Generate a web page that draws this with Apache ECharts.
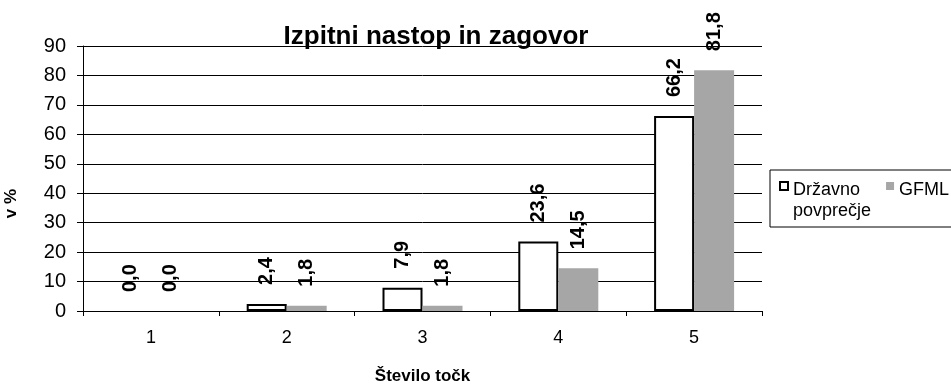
<!DOCTYPE html>
<html>
<head>
<meta charset="utf-8">
<script src="https://cdn.jsdelivr.net/npm/echarts@6/dist/echarts.min.js"></script>
<style>
  html, body { margin: 0; padding: 0; background: #fff; }
  #chart { width: 951px; height: 388px; }
</style>
</head>
<body>
<div id="chart"></div>
<script>
// Points awarded (1–5) and share of candidates in percent
const categories = ['1', '2', '3', '4', '5'];
const drzavnoPovprecje = [0.0, 2.4, 7.9, 23.6, 66.2];
const gfml = [0.0, 1.8, 1.8, 14.5, 81.8];
const seriesNames = ['Državno povprečje', 'GFML'];
const titleText = 'Izpitni nastop in zagovor';
const xAxisTitle = 'Število točk';
const yAxisTitle = 'v %';

const FONT = '"Liberation Sans", Arial, sans-serif';
const fmt = v => v.toFixed(1).replace('.', ',');

const valueLabel = {
  show: true,
  position: 'top',
  rotate: 90,
  align: 'left',
  verticalAlign: 'middle',
  distance: 19,
  fontFamily: FONT,
  fontWeight: 'bold',
  fontSize: 20,
  color: '#000',
  formatter: p => fmt(p.value)
};

// an empty bar gets no outline, so nothing is drawn over the axis
const outlined = values => values.map(v => v === 0
  ? { value: v, itemStyle: { borderWidth: 0 } }
  : v);

// legend swatch: an 8px square sitting at the top of a tall item box,
// so it lines up with the first line of two-line legend text
const swatch = 'path://M0,0h8v8h-8zM8,37';

const chart = echarts.init(document.getElementById('chart'), null, { renderer: 'canvas' });
chart.setOption({
  animation: false,
  backgroundColor: '#fff',
  title: {
    text: titleText,
    left: 431,
    top: 19,
    textAlign: 'center',
    textStyle: { fontFamily: FONT, fontWeight: 'bold', fontSize: 26, color: '#000' }
  },
  legend: {
    left: 770,
    top: 170,
    width: 400,
    orient: 'horizontal',
    itemWidth: 8,
    itemHeight: 37,
    itemGap: 15,
    padding: [9.5, 40, 5.5, 9],
    borderColor: '#000',
    borderWidth: 1,
    backgroundColor: '#fff',
    selectedMode: false,
    textStyle: {
      fontFamily: FONT,
      fontSize: 18,
      color: '#000',
      lineHeight: 21
    },
    data: [
      {
        name: seriesNames[0],
        icon: swatch,
        itemStyle: { color: '#fff', borderColor: '#000', borderWidth: 2 }
      },
      {
        name: seriesNames[1],
        icon: swatch,
        itemStyle: { color: '#a6a6a6', borderWidth: 0 }
      }
    ],
    formatter: name => name.indexOf(' ') >= 0 ? name.replace(' ', '\n') : name + '\n '
  },
  grid: { left: 83, right: 189, top: 46, bottom: 77, containLabel: false, outerBoundsMode: 'none' },
  xAxis: {
    type: 'category',
    data: categories,
    boundaryGap: true,
    name: xAxisTitle,
    nameLocation: 'middle',
    nameGap: 57,
    nameTextStyle: { fontFamily: FONT, fontWeight: 'bold', fontSize: 17, color: '#000' },
    axisLine: { lineStyle: { color: '#000', width: 1 } },
    axisTick: { show: true, length: 5, lineStyle: { color: '#000' }, alignWithLabel: false },
    axisLabel: { fontFamily: FONT, fontSize: 18, color: '#000', margin: 18 },
    splitLine: { show: false }
  },
  yAxis: {
    type: 'value',
    min: 0,
    max: 90,
    interval: 10,
    name: yAxisTitle,
    nameLocation: 'middle',
    nameGap: 63,
    nameRotate: 90,
    nameTextStyle: { fontFamily: FONT, fontWeight: 'bold', fontSize: 17, color: '#000', padding: [0, 50, 0, 0] },
    axisLine: { show: true, lineStyle: { color: '#000', width: 1 } },
    axisTick: { show: true, length: 6, lineStyle: { color: '#000' } },
    axisLabel: { fontFamily: FONT, fontSize: 20, color: '#000', margin: 17 },
    splitLine: { show: true, lineStyle: { color: '#000', width: 1 } }
  },
  series: [
    {
      name: seriesNames[0],
      type: 'bar',
      data: outlined(drzavnoPovprecje),
      barWidth: 40,
      barGap: '0%',
      itemStyle: { color: '#fff', borderColor: '#000', borderWidth: 2 },
      label: valueLabel
    },
    {
      name: seriesNames[1],
      type: 'bar',
      data: gfml,
      barWidth: 40,
      barGap: '0%',
      itemStyle: { color: '#a6a6a6' },
      label: valueLabel
    }
  ]
});
</script>
</body>
</html>
